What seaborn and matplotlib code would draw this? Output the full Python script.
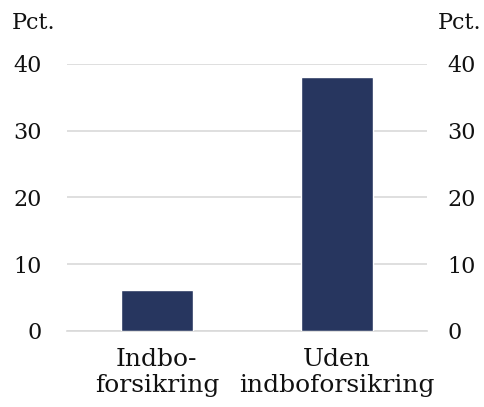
import numpy as np
import pandas as pd
import matplotlib
matplotlib.use("Agg")
import matplotlib.pyplot as plt
import seaborn as sns
from matplotlib.ticker import FixedLocator

categories = ["Indbo-\nforsikring", "Uden\nindboforsikring"]
values = [6.1, 38.0]
yticks = [0, 10, 20, 30, 40]

df = pd.DataFrame({"kategori": categories, "pct": values})

sns.set_style("white")
plt.rcParams['font.family'] = ['DejaVu Serif']

fig = plt.figure(figsize=(4.84, 4.07), dpi=100)
ax = fig.add_axes([0.138, 0.187, 0.744, 0.656])

sns.barplot(data=df, x="kategori", y="pct", color="#27365f", width=0.4,
            saturation=1, ax=ax, zorder=3)

ax.set_ylim(0, 40)
ax.set_xlim(-0.5, 1.5)
ax.set_yticks(yticks)
ax.yaxis.grid(True, color="#d9d9d9", linewidth=1.2, zorder=0)
ax.set_axisbelow(True)
for s in ["top", "right", "left"]:
    ax.spines[s].set_visible(False)
ax.spines["bottom"].set_color("#d9d9d9")
ax.spines["bottom"].set_linewidth(1.2)
ax.set_xlabel("")
ax.set_ylabel("")
ax.tick_params(axis="y", length=0, pad=18, labelsize=16, labelcolor="#111111")
ax.tick_params(axis="x", which="major", length=0, pad=12, labelsize=18,
               labelcolor="#111111")
ax.xaxis.set_minor_locator(FixedLocator([-0.5, 0.5, 1.5]))
ax.tick_params(axis="x", which="minor", length=8, color="#d9d9d9", width=1.2)
for lbl in ax.get_xticklabels():
    lbl.set_linespacing(1.2)

ax2 = ax.twinx()
ax2.set_ylim(0, 40)
ax2.set_yticks(yticks)
for s in ["top", "right", "left", "bottom"]:
    ax2.spines[s].set_visible(False)
ax2.tick_params(axis="y", length=0, pad=15, labelsize=16, labelcolor="#111111")

fig.text(0.025, 0.943, "Pct.", fontsize=16, ha="left", va="center", color="#111111")
fig.text(0.995, 0.943, "Pct.", fontsize=16, ha="right", va="center", color="#111111")

fig.savefig("out.png", dpi=100)
